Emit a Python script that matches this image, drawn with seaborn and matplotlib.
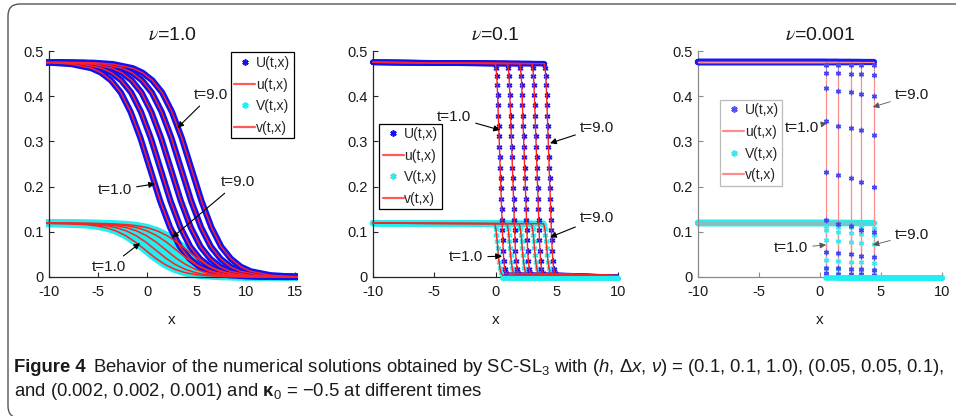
import matplotlib
matplotlib.use('Agg')
import numpy as np
import pandas as pd
import matplotlib.pyplot as plt
from matplotlib.lines import Line2D
from matplotlib.patches import FancyBboxPatch
from matplotlib.transforms import Bbox, TransformedBbox
import seaborn as sns

# ---- data ----
times = ['1.0', '3.0', '5.0', '7.0', '9.0']

# nu = 1.0 : front positions of each time level and the common profile shape
p1_u_front = [0.3, 1.35, 2.4, 3.45, 4.5]
p1_v_front = [-0.2, 0.85, 1.9, 2.95, 4.0]
p1_offset = [-14, -10, -8, -6, -5, -4, -3, -2, -1, 0, 1, 2, 3, 4, 5, 6, 8, 10, 12, 14]
p1_u = [0.475, 0.474, 0.471, 0.462, 0.452, 0.435, 0.408, 0.365, 0.307, 0.2375,
        0.168, 0.110, 0.067, 0.040, 0.0225, 0.0126, 0.0039, 0.0012, 0.0004, 0.0]
p1_v = [0.119, 0.1187, 0.118, 0.1157, 0.1132, 0.109, 0.102, 0.0915, 0.077, 0.0595,
        0.042, 0.0275, 0.0169, 0.0099, 0.0056, 0.0032, 0.001, 0.0003, 0.0001, 0.0]

# nu = 0.1 : steep fronts, markers visible along the drop
p2_u_front = [0.4, 1.4, 2.4, 3.4, 4.4]
p2_v_front = [0.25, 1.25, 2.25, 3.25, 4.25]
p2_u_off = [-0.42, -0.36, -0.30, -0.26, -0.23, -0.20, -0.17, -0.14, -0.11, -0.08, -0.05, -0.02,
            0.01, 0.04, 0.07, 0.10, 0.13, 0.16, 0.19, 0.23, 0.28, 0.35, 0.45]
p2_u = [0.472, 0.462, 0.445, 0.424, 0.402, 0.380, 0.357, 0.334, 0.311, 0.288, 0.265, 0.242,
        0.219, 0.196, 0.173, 0.150, 0.127, 0.104, 0.081, 0.058, 0.036, 0.018, 0.008]
p2_v_off = [-0.35, -0.28, -0.22, -0.17, -0.12, -0.07, -0.02, 0.04, 0.11, 0.20, 0.32]
p2_v = [0.118, 0.114, 0.106, 0.094, 0.080, 0.064, 0.048, 0.033, 0.020, 0.010, 0.004]

# nu = 0.001 : jumps, with the few grid values caught inside each jump
p3_front = [0.5, 1.5, 2.5, 3.4, 4.4]
p3_u_marks = [[0.47, 0.452, 0.418, 0.345, 0.232, 0.126, 0.056, 0.02, 0.008],
              [0.47, 0.452, 0.412, 0.335, 0.225, 0.118, 0.053, 0.02, 0.007],
              [0.47, 0.450, 0.410, 0.330, 0.218, 0.112, 0.050, 0.018, 0.006],
              [0.47, 0.450, 0.405, 0.325, 0.210, 0.105, 0.047, 0.017, 0.006],
              [0.47, 0.447, 0.400, 0.315, 0.200, 0.100, 0.044, 0.016, 0.005]]
p3_v_marks = [[0.112, 0.104, 0.082, 0.038, 0.02, 0.006],
              [0.111, 0.100, 0.080, 0.036, 0.018, 0.006],
              [0.110, 0.098, 0.078, 0.034, 0.017, 0.005],
              [0.110, 0.096, 0.076, 0.033, 0.016, 0.005],
              [0.109, 0.094, 0.074, 0.032, 0.015, 0.005]]

u_left, v_left = 0.475, 0.119

sns.set_theme(style='white')
sans = ['Liberation Sans', 'DejaVu Sans']
plt.rcParams['font.family'] = sans
plt.rcParams['axes.unicode_minus'] = False
plt.rcParams['mathtext.fontset'] = 'custom'
plt.rcParams['mathtext.rm'] = 'Liberation Sans'
plt.rcParams['mathtext.it'] = 'Liberation Sans:italic'
plt.rcParams['mathtext.bf'] = 'Liberation Sans:bold'

W, H = 956, 416
fig = plt.figure(figsize=(W / 100, H / 100), dpi=100)
fig.patch.set_facecolor('white')

# rounded frame around the figure panel (cut by the page edge)
frame = FancyBboxPatch((8, -2), 1000, 414, boxstyle='round,pad=0,rounding_size=12',
                       transform=None, fill=False, ec='#555555', lw=1.0)
fig.add_artist(frame)

ax_px = [(49, 295), (373, 618), (698, 942)]
axes = []
for x0, x1 in ax_px:
    a = fig.add_axes([x0 / W, (H - 277) / H, (x1 - x0) / W, 226 / H])
    axes.append(a)

BLUE = '#1010f5'
CYAN = '#20eef0'
RED = '#ff2020'


def lines(ax, segs, color, lw, zorder):
    rows = []
    for k, (xs, ys) in enumerate(segs):
        for xv, yv in zip(xs, ys):
            rows.append((xv, yv, k))
    df = pd.DataFrame(rows, columns=['x', 'y', 'curve'])
    sns.lineplot(data=df, x='x', y='y', units='curve', estimator=None, sort=False,
                 color=color, lw=lw, legend=False, ax=ax, zorder=zorder)


def marks(ax, xs, ys, color, s, zorder, lw=1.0):
    df = pd.DataFrame({'x': xs, 'y': ys})
    sns.scatterplot(data=df, x='x', y='y', marker=(6, 2, 0), color=color, s=s,
                    linewidth=lw, legend=False, ax=ax, zorder=zorder)


# ---- panel 1 : nu = 1.0 ----
ax = axes[0]
v_segs = [(np.array(p1_offset) + c, p1_v) for c in p1_v_front]
u_segs = [(np.array(p1_offset) + c, p1_u) for c in p1_u_front]
lines(ax, v_segs, CYAN, 5.5, 2)
lines(ax, u_segs, BLUE, 4.5, 3)
lines(ax, u_segs, RED, 1.1, 4)
lines(ax, v_segs, RED, 1.1, 4)

# ---- panel 2 : nu = 0.1 ----
ax = axes[1]
xmax = 10
for c in p2_v_front:
    xs = np.array(p2_v_off) + c
    lines(ax, [([-10, xs[0]], [v_left, p2_v[0]])], CYAN, 4.5, 2)
    marks(ax, xs, p2_v, CYAN, 12, 2)
for c in p2_u_front:
    xs = np.array(p2_u_off) + c
    lines(ax, [([-10, xs[0]], [u_left, p2_u[0]])], BLUE, 4.0, 3)
    lines(ax, [([xs[-1], xmax], [p2_u[-1], 0.003])], BLUE, 1.5, 3)
    marks(ax, xs, p2_u, BLUE, 12, 3)
u_red = [(np.r_[-10, np.array(p2_u_off) + c, xmax], np.r_[u_left, p2_u, 0.003]) for c in p2_u_front]
v_red = [(np.r_[-10, np.array(p2_v_off) + c, xmax], np.r_[v_left, p2_v, 0.0]) for c in p2_v_front]
lines(ax, u_red, RED, 1.0, 4)
lines(ax, v_red, RED, 1.0, 4)
# bottom cyan band at the foot of the fronts
lines(ax, [([c + p2_v_off[-1], xmax], [-0.002, -0.002]) for c in p2_v_front], CYAN, 3.5, 5)

# ---- panel 3 : nu = 0.001 ----
ax = axes[2]
lines(ax, [([-10, c], [v_left, v_left]) for c in p3_front], CYAN, 4.5, 2)
lines(ax, [([-10, c], [u_left, u_left]) for c in p3_front], '#1a1af0', 4.5, 3)
lines(ax, [([-10, c, c, xmax], [u_left, u_left, 0.0, 0.0]) for c in p3_front], '#ff8c8c', 0.9, 4)
lines(ax, [([-10, c, c, xmax], [v_left, v_left, 0.0, 0.0]) for c in p3_front], '#ff8c8c', 0.9, 4)
for c, um, vm in zip(p3_front, p3_u_marks, p3_v_marks):
    marks(ax, [c] * len(vm), vm, '#40e4ec', 10, 5)
    marks(ax, [c] * len(um), um, '#4646f0', 10, 5)
lines(ax, [([c, xmax], [-0.003, -0.003]) for c in p3_front], CYAN, 4.0, 6)

# ---- axes styling ----
titles = [r'$\nu$=1.0', r'$\nu$=0.1', r'$\nu$=0.001']
xlims = [(-10, 15), (-10, 10), (-10, 10)]
spine_cols = ['#262626', '#262626', '#8a8a8a']
for ax, title, (lo, hi), sc in zip(axes, titles, xlims, spine_cols):
    ax.set_xlim(lo, hi)
    ax.set_ylim(0, 0.5)
    ax.set_xticks(np.arange(lo, hi + 1, 5))
    ax.set_xticklabels([f'{v:d}' for v in np.arange(lo, hi + 1, 5)])
    ax.set_yticks([0, 0.1, 0.2, 0.3, 0.4, 0.5])
    ax.set_yticklabels(['0', '0.1', '0.2', '0.3', '0.4', '0.5'])
    for side in ['top', 'right']:
        ax.spines[side].set_visible(False)
    for side in ['left', 'bottom']:
        ax.spines[side].set_color(sc)
        ax.spines[side].set_linewidth(0.9)
    ax.tick_params(direction='in', length=3.5, width=0.8, color=sc, labelsize=10.5,
                   labelcolor='#1a1a1a', left=True, bottom=True)
    ax.tick_params(axis='x', pad=6)
    ax.tick_params(axis='y', pad=4)
    ax.set_xlabel('x', fontsize=11, labelpad=10, color='#1a1a1a')
    ax.set_ylabel('')
    ax.set_title(title, fontsize=14, pad=8, math_fontfamily='stix', color='#1a1a1a')
    ax.set_facecolor('none')
    ax.grid(False)
    ext = TransformedBbox(Bbox([[lo - 0.3, -0.02], [hi + 0.3, 0.52]]), ax.transData)
    for ln in ax.lines:
        ln.set_clip_box(ext)
    for col in ax.collections:
        col.set_clip_on(False)

# ---- legends ----
leg_specs = [(axes[0], 'upper right', (1.0, 1.0), BLUE, CYAN, '#ff5a5a', 'black'),
             (axes[1], 'upper left', (0.02, 0.685), BLUE, CYAN, '#ff5a5a', 'black'),
             (axes[2], 'upper left', (0.083, 0.79), '#5050f0', '#40e4ec', '#ff8c8c', '#bbbbbb')]
for ax, loc, anchor, bc, cc, rc, fc in leg_specs:
    handles = [Line2D([], [], ls='none', marker=(6, 2, 0), color=bc, ms=4.5, mew=1.2),
               Line2D([], [], color=rc, lw=1.6),
               Line2D([], [], ls='none', marker=(6, 2, 0), color=cc, ms=4.5, mew=1.2),
               Line2D([], [], color=rc, lw=1.6)]
    leg = ax.legend(handles, ['U(t,x)', 'u(t,x)', 'V(t,x)', 'v(t,x)'], loc=loc,
                    bbox_to_anchor=anchor, fontsize=10, frameon=True, fancybox=False,
                    borderpad=0.25, labelspacing=0.55, handlelength=1.5, handletextpad=0.05,
                    borderaxespad=0.1, framealpha=1)
    leg.get_frame().set_edgecolor(fc)
    leg.get_frame().set_linewidth(0.9)
    leg.set_zorder(10)

# ---- arrows with time labels ----
notes = [
    (axes[0], [('t=9.0', (6.46, 0.403), (3.05, 0.33)), ('t=1.0', (-3.3, 0.192), (0.77, 0.206)),
               ('t=9.0', (9.2, 0.21), (2.5, 0.087)), ('t=1.0', (-3.9, 0.022), (-0.75, 0.075))], 'black', 0.8),
    (axes[1], [('t=1.0', (-3.39, 0.354), (0.37, 0.325)), ('t=9.0', (8.29, 0.33), (4.45, 0.296)),
               ('t=9.0', (8.29, 0.13), (4.45, 0.088)), ('t=1.0', (-2.4, 0.044), (0.53, 0.046))], 'black', 0.8),
    (axes[2], [('t=9.0', (7.54, 0.403), (4.34, 0.376)), ('t=1.0', (-1.5, 0.33), (0.57, 0.34)),
               ('t=9.0', (7.54, 0.093), (4.34, 0.071)), ('t=1.0', (-2.38, 0.064), (0.49, 0.071))], '#555555', 0.6),
]
for ax, items, ac, alw in notes:
    for label, txy, hxy in items:
        ax.annotate(label, xy=hxy, xytext=txy, ha='center', va='center', fontsize=11,
                    color='#1a1a1a', zorder=12,
                    arrowprops=dict(arrowstyle='-|>', color=ac, lw=alw, mutation_scale=9,
                                    shrinkA=1, shrinkB=0))

# ---- caption ----
cap_y1 = 1 - 368 / H
cap_y2 = 1 - 392 / H
fs = 12.5
t0 = fig.text(14 / W, cap_y1, 'Figure 4', fontsize=fs, weight='bold', va='center', color='#1a1a1a')
t1 = fig.text(0.1, cap_y1,
              r'Behavior of the numerical solutions obtained by SC-SL$_3$ with ($h$, $\Delta x$, $\nu$) = (0.1, 0.1, 1.0), (0.05, 0.05, 0.1),',
              fontsize=fs, va='center', color='#1a1a1a', math_fontfamily='custom')
t2 = fig.text(14 / W, cap_y2,
              r'and (0.002, 0.002, 0.001) and $\mathbf{\kappa}_0$ = −0.5 at different times',
              fontsize=fs, va='center', color='#1a1a1a', math_fontfamily='custom')
for _ in range(3):
    fig.canvas.draw()
    r = t0.get_window_extent().x1
    t1.set_x((r + 7) / W)
    fig.canvas.draw()
    full = t1.get_window_extent().x1 - t0.get_window_extent().x0
    fs = fs * (943 - 14) / full
    for t in (t0, t1, t2):
        t.set_fontsize(fs)
fig.canvas.draw()
t1.set_x((t0.get_window_extent().x1 + 7) / W)

fig.savefig('out.png', dpi=100)
